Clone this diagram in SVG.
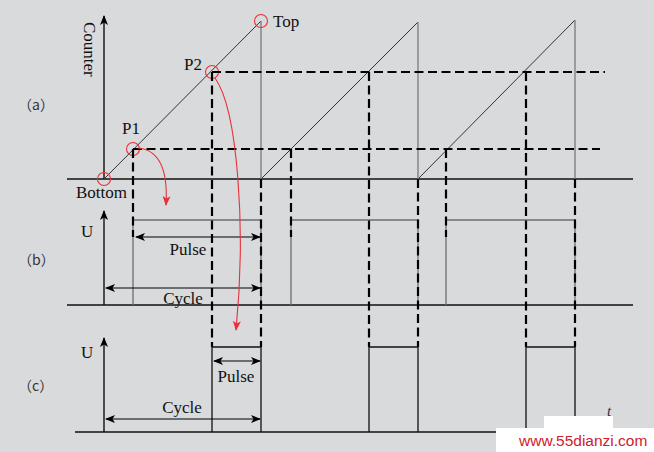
<svg xmlns="http://www.w3.org/2000/svg" width="654" height="452" viewBox="0 0 654 452">
<defs>
<marker id="ah" viewBox="0 0 10 8" refX="9" refY="4" markerWidth="10" markerHeight="8" markerUnits="userSpaceOnUse" orient="auto-start-reverse">
<path d="M0,0 L10,4 L0,8 L2.5,4 z" fill="#000"/>
</marker>
<marker id="rah" viewBox="0 0 10 8" refX="9" refY="4" markerWidth="10" markerHeight="8" markerUnits="userSpaceOnUse" orient="auto">
<path d="M0,0 L10,4 L0,8 L2.5,4 z" fill="#e8303a"/>
</marker>
</defs>
<style>
.ax{stroke:#000;stroke-width:1.3;fill:none}
.base{stroke:#111;stroke-width:1.3;fill:none}
.ramp{stroke:#333;stroke-width:1;fill:none}
.drop{stroke:#7a7a7a;stroke-width:1.3;fill:none}
.gp{stroke:#6e6e6e;stroke-width:1.3;fill:none}
.bp{stroke:#111;stroke-width:1.3;fill:none}
.dash{stroke:#000;stroke-width:2.2;stroke-dasharray:9 4.5;fill:none}
.circ{stroke:#e8303a;stroke-width:1.1;fill:none}
.red{stroke:#e8303a;stroke-width:1.1;fill:none}
.dbl{stroke:#000;stroke-width:1.2;fill:none}
.t{font-family:"Liberation Serif","Times New Roman",serif;font-size:17px;fill:#111}
.lab{font-family:"Noto Sans CJK SC","Liberation Serif",sans-serif;font-size:14px;fill:#333}
</style>
<rect x="0" y="0" width="654" height="452" fill="#d9dadc"/>

<g id="panel-a">
<line class="ax" x1="104" y1="179" x2="104" y2="16" marker-end="url(#ah)"/>
<line class="base" x1="67" y1="179" x2="633" y2="179"/>
<path class="ramp" d="M104,179 L261,21 M261,179 L418,22 M418,179 L575,20"/>
<path class="drop" d="M261,21 V179 M418,22 V179 M575,20 V179"/>
<circle class="circ" cx="104" cy="179" r="6.5"/>
<circle class="circ" cx="261" cy="21" r="6.5"/>
<circle class="circ" cx="133" cy="149" r="6.5"/>
<circle class="circ" cx="212" cy="72" r="6.5"/>
<text class="t" transform="translate(84,22) rotate(90)" font-size="18">Counter</text>
<text class="t" x="273" y="27">Top</text>
<text class="t" x="184" y="70">P2</text>
<text class="t" x="122" y="134">P1</text>
<text class="t" x="76" y="198">Bottom</text>
<text class="lab" x="18" y="110">（a）</text>
</g>

<g id="panel-b">
<line class="ax" x1="104" y1="305" x2="104" y2="211" marker-end="url(#ah)"/>
<line class="base" x1="67" y1="305" x2="633" y2="305"/>
<path class="gp" d="M133,305 V220 H261 V305 M291,305 V220 H418 V305 M446,305 V220 H575 V305"/>
<line class="dbl" x1="136" y1="237" x2="260" y2="237" marker-start="url(#ah)" marker-end="url(#ah)"/>
<line class="dbl" x1="106" y1="288" x2="260" y2="288" marker-start="url(#ah)" marker-end="url(#ah)"/>
<text class="t" x="188" y="255" text-anchor="middle">Pulse</text>
<text class="t" x="183" y="304" text-anchor="middle">Cycle</text>
<text class="t" x="81" y="237">U</text>
<text class="lab" x="18" y="265">（b）</text>
</g>

<g id="panel-c">
<line class="ax" x1="104" y1="432" x2="104" y2="338" marker-end="url(#ah)"/>
<line class="base" x1="75" y1="432" x2="633" y2="432"/>
<path class="bp" d="M212,432 V347 H261 V432 M369,432 V347 H418 V432 M526,432 V347 H575 V432"/>
<line class="dbl" x1="214" y1="361" x2="260" y2="361" marker-start="url(#ah)" marker-end="url(#ah)"/>
<line class="dbl" x1="106" y1="419" x2="260" y2="419" marker-start="url(#ah)" marker-end="url(#ah)"/>
<text class="t" x="236" y="382" text-anchor="middle">Pulse</text>
<text class="t" x="182" y="413" text-anchor="middle">Cycle</text>
<text class="t" x="81" y="358">U</text>
<text class="lab" x="18" y="391">（c）</text>
<text x="607" y="416" font-family="Liberation Serif,serif" font-style="italic" font-size="15" fill="#333">t</text>
</g>

<g id="connectors">
<path class="dash" d="M212,72 H605 M133,149 H600"/>
<path class="dash" d="M133,149 V237 M291,149 V237 M446,149 V237"/>
<path class="dash" d="M212,72 V347 M369,72 V347 M526,72 V347"/>
<path class="dash" d="M261,179 V347 M418,179 V347 M575,179 V347"/>
<path class="red" d="M138,148 C160,150 168,172 166,205" marker-end="url(#rah)"/>
<path class="red" d="M215,78 C238,110 246,230 236,330" marker-end="url(#rah)"/>
</g>

<g id="watermark">
<rect x="544" y="416" width="69" height="13" fill="#fff"/>
<rect x="496" y="428" width="158" height="24" fill="#fff"/>
<text x="519" y="446" font-family="Liberation Sans,Arial,sans-serif" font-size="15.5" fill="#d0202a">www.55dianzi.com</text>
</g>
</svg>
